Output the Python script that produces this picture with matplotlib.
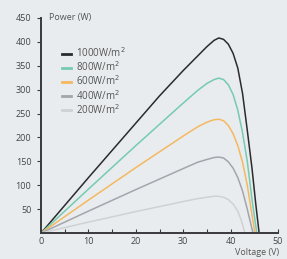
import numpy as np
import matplotlib
matplotlib.use("Agg")
import matplotlib.pyplot as plt

plt.rcParams['font.family'] = ['Open Sans', 'DejaVu Sans']

# curves: voltage (V) / power (W)
v_1000 = [0, 5, 10, 15, 20, 25, 30, 33, 35, 36.5, 37.5, 38.5, 39.5, 40.5, 41.5, 42.5, 43.5, 44.5, 45.3, 46]
p_1000 = [0, 58, 116, 173, 230, 287, 340, 370, 390, 403, 408, 405, 395, 376, 345, 292, 215, 135, 60, 0]

v_800 = [0, 10, 20, 30, 33, 35, 36.5, 37.5, 38.5, 39.5, 40.5, 41.5, 42.5, 43.5, 44.5, 45.5]
p_800 = [0, 92, 183, 272, 298, 313, 321, 324, 321, 310, 290, 257, 210, 150, 70, 0]

v_600 = [0, 10, 20, 30, 33, 35, 36.5, 37.5, 38.5, 39.5, 40.5, 41.5, 42.5, 43.5, 44.3, 45.1]
p_600 = [0, 69, 137, 203, 222, 232, 237, 238, 235, 225, 208, 183, 148, 100, 50, 0]

v_400 = [0, 10, 20, 30, 33, 35, 36.5, 37.5, 38.5, 39.5, 40.5, 41.5, 42.5, 43.5, 44.7]
p_400 = [0, 46, 91, 135, 148, 154, 158, 159, 157, 149, 136, 116, 88, 50, 0]

v_200 = [0, 10, 20, 30, 33, 35, 36.5, 37.5, 38.5, 39.5, 40.5, 41.5, 42.3, 43]
p_200 = [0, 23, 45, 66, 72, 75, 77, 77, 75, 70, 61, 46, 25, 0]

labels = ["1000W/m$^2$", "800W/m$^2$", "600W/m$^2$", "400W/m$^2$", "200W/m$^2$"]
colors = ["#2b2b2e", "#74cbb0", "#f4b860", "#a3a5ab", "#cfd1d4"]

bg = "#e9ecef"
fig = plt.figure(figsize=(2.87, 2.59), dpi=100, facecolor=bg)
ax = fig.add_axes([0.143, 0.100, 0.826, 0.831], facecolor=bg)

curves = [(v_1000, p_1000), (v_800, p_800), (v_600, p_600), (v_400, p_400), (v_200, p_200)]
for (v, p), lab, c in zip(curves, labels, colors):
    ax.plot(v, p, color=c, lw=1.1, label=lab, solid_joinstyle='round')

ax.set_xlim(0, 50)
ax.set_ylim(0, 450)
ax.set_xticks([0, 10, 20, 30, 40, 50])
ax.set_xticks(np.arange(5, 50, 10), minor=True)
ax.set_yticks([50, 100, 150, 200, 250, 300, 350, 400, 450])

for s in ['top', 'right']:
    ax.spines[s].set_visible(False)
for s in ['left', 'bottom']:
    ax.spines[s].set_color("#3a3a3d")
    ax.spines[s].set_linewidth(1.4)

ax.tick_params(axis='x', which='both', direction='in', length=3, width=0.8,
               colors="#3a3a3d", labelcolor="#444444", labelsize=6.5, pad=3)
ax.tick_params(axis='y', direction='out', length=3, width=0.8,
               colors="#3a3a3d", labelcolor="#444444", labelsize=6.5, pad=4)

ax.text(1.6, 450, "Power (W)", fontsize=6.5, color="#555555", va='center', ha='left')
ax.text(50.3, -40, "Voltage (V)", fontsize=6.5, color="#555555", va='center', ha='right',
        clip_on=False)

leg = ax.legend(loc='upper left', bbox_to_anchor=(0.07, 0.885), frameon=False,
                fontsize=7, handlelength=1.0, handletextpad=0.5, labelspacing=0.03,
                borderaxespad=0)
for t in leg.get_texts():
    t.set_color("#555555")
for h in leg.get_lines():
    h.set_linewidth(2)

fig.savefig("out.png", dpi=100, facecolor=bg)
